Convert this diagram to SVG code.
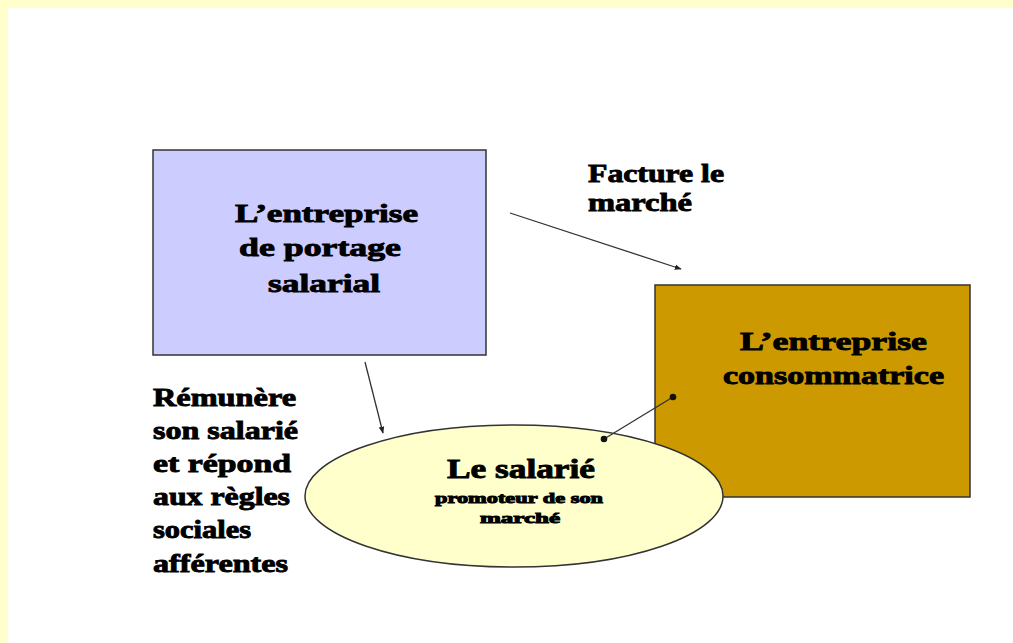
<svg xmlns="http://www.w3.org/2000/svg" width="1013" height="643" viewBox="0 0 1013 643">
<style>
.t{font-family:"Liberation Serif","Times New Roman",serif;font-weight:bold;fill:#000;stroke:#000;stroke-width:0.9;}
.big{font-size:26px;}
.title{font-size:28px;}
.small{font-size:15px;stroke-width:1;}
.box{stroke:#333;stroke-width:1.5;}
.conn{stroke:#333;stroke-width:1.3;fill:none;}
</style>
<defs>
<marker id="ah" viewBox="0 0 10 10" refX="9" refY="5" markerWidth="7" markerHeight="7" orient="auto" markerUnits="userSpaceOnUse">
<path d="M0,1 L10,5 L0,9 z" fill="#222"/>
</marker>
</defs>
<rect x="0" y="0" width="1013" height="643" fill="#FFFFCC"/>
<rect x="8" y="8" width="1005" height="635" fill="#FFFFFF"/>

<g id="portage">
<rect class="box" x="153" y="150" width="333" height="205" fill="#CCCCFF"/>
<text class="t big" x="235" y="222" textLength="183" lengthAdjust="spacingAndGlyphs">L’entreprise</text>
<text class="t big" x="239" y="256" textLength="162" lengthAdjust="spacingAndGlyphs">de portage</text>
<text class="t big" x="268" y="292" textLength="112" lengthAdjust="spacingAndGlyphs">salarial</text>
</g>

<g id="consommatrice">
<rect class="box" x="655" y="285" width="315" height="212" fill="#CC9900"/>
<text class="t big" x="740" y="350" textLength="187" lengthAdjust="spacingAndGlyphs">L’entreprise</text>
<text class="t big" x="723" y="384" textLength="221" lengthAdjust="spacingAndGlyphs">consommatrice</text>
</g>

<g id="salarie">
<ellipse class="box" cx="514" cy="496" rx="209" ry="71" fill="#FFFFCC"/>
<text class="t title" x="447" y="478" textLength="148" lengthAdjust="spacingAndGlyphs">Le salarié</text>
<text class="t small" x="435" y="503" textLength="168" lengthAdjust="spacingAndGlyphs">promoteur de son</text>
<text class="t small" x="480" y="523" textLength="80" lengthAdjust="spacingAndGlyphs">marché</text>
</g>

<g id="connectors">
<line class="conn" x1="510" y1="213" x2="681" y2="269" marker-end="url(#ah)"/>
<line class="conn" x1="365" y1="362" x2="383" y2="433" marker-end="url(#ah)"/>
<line class="conn" x1="673" y1="397" x2="604" y2="439"/>
<circle cx="673" cy="397" r="3.3" fill="#111"/>
<circle cx="604" cy="439" r="3.3" fill="#111"/>
</g>

<g id="label-facture">
<text class="t big" x="588" y="182" textLength="136" lengthAdjust="spacingAndGlyphs">Facture le</text>
<text class="t big" x="588" y="211" textLength="104" lengthAdjust="spacingAndGlyphs">marché</text>
</g>

<g id="label-remunere">
<text class="t big" x="153" y="406" textLength="143" lengthAdjust="spacingAndGlyphs">Rémunère</text>
<text class="t big" x="153" y="439" textLength="145" lengthAdjust="spacingAndGlyphs">son salarié</text>
<text class="t big" x="153" y="472" textLength="138" lengthAdjust="spacingAndGlyphs">et répond</text>
<text class="t big" x="153" y="505" textLength="137" lengthAdjust="spacingAndGlyphs">aux règles</text>
<text class="t big" x="153" y="538" textLength="98" lengthAdjust="spacingAndGlyphs">sociales</text>
<text class="t big" x="153" y="572" textLength="135" lengthAdjust="spacingAndGlyphs">afférentes</text>
</g>
</svg>
